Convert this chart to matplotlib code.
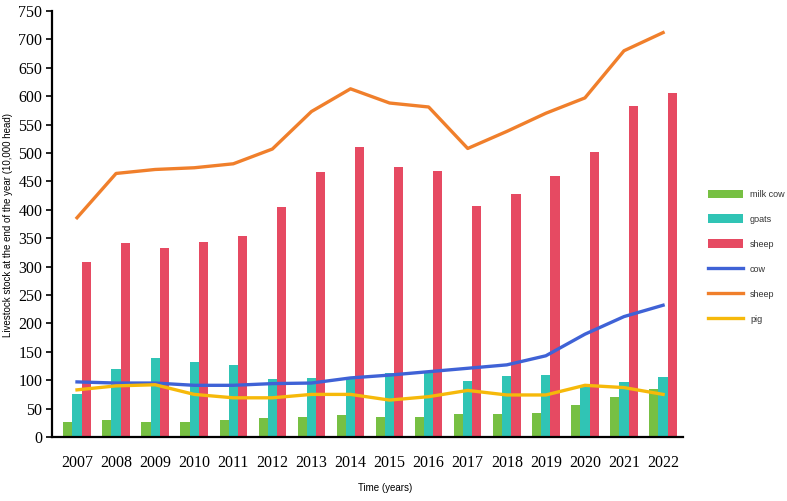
import matplotlib
matplotlib.use('Agg')
import matplotlib.pyplot as plt
import numpy as np

# Datos (10,000 cabezas)
years = ['2007', '2008', '2009', '2010', '2011', '2012', '2013', '2014',
         '2015', '2016', '2017', '2018', '2019', '2020', '2021', '2022']
milk_cow = [26, 30, 26, 26, 30, 33, 35, 38, 35, 36, 41, 40, 43, 56, 71, 84]
goats = [76, 120, 139, 132, 126, 102, 104, 105, 113, 112, 99, 107, 109, 89, 97, 106]
sheep_bar = [308, 341, 332, 343, 353, 405, 467, 510, 475, 469, 407, 428, 460, 502, 583, 606]
cow = [97, 95, 95, 91, 91, 94, 95, 104, 109, 115, 121, 127, 143, 181, 212, 232]
sheep_line = [386, 464, 471, 474, 481, 507, 573, 613, 588, 581, 508, 538, 570, 597, 680, 712]
pig = [83, 90, 92, 75, 69, 69, 75, 75, 65, 71, 82, 74, 74, 91, 87, 75]

fig = plt.figure(figsize=(7.87, 5.01), dpi=100)
ax = fig.add_axes([52/787, 1-437/501, (683-52)/787, (437-11)/501])

x = np.arange(len(years))
w = 0.235
b1 = ax.bar(x - w, milk_cow, w, color='#77c043', label='milk cow')
b2 = ax.bar(x, goats, w, color='#30c4b5', label='goats')
b3 = ax.bar(x + w, sheep_bar, w, color='#e64a62', label='sheep')
l1, = ax.plot(x, cow, color='#3f62d6', linewidth=2.4, label='cow')
l2, = ax.plot(x, sheep_line, color='#f07f2b', linewidth=2.4, label='sheep')
l3, = ax.plot(x, pig, color='#f6b90a', linewidth=2.4, label='pig')

ax.set_xlim(-0.64, 15.51)
ax.set_ylim(0, 750)
ax.set_yticks(np.arange(0, 751, 50))
ax.set_xticks(x)
ax.set_xticklabels(years)
for sp in ['top', 'right']:
    ax.spines[sp].set_visible(False)
for sp in ['left', 'bottom']:
    ax.spines[sp].set_linewidth(1.6)
ax.tick_params(axis='x', length=0, pad=13)
ax.tick_params(axis='y', length=4, width=1.2, pad=3)
for lab in ax.get_xticklabels() + ax.get_yticklabels():
    lab.set_family('Liberation Serif')
    lab.set_fontsize(11.5)

fig.text(8/787, 1-225/501, 'Livestock stock at the end of the year (10,000 head)',
         rotation=90, ha='center', va='center', fontsize=7, family='Liberation Sans')
fig.text(385/787, 1-488/501, 'Time (years)', ha='center', va='center',
         fontsize=7, family='Liberation Sans')

# Leyenda: primero las barras, luego las lineas
handles = [b1, b2, b3, l1, l2, l3]
labels = [h.get_label() for h in handles]
leg = fig.legend(handles, labels, loc='upper left', bbox_to_anchor=(703/787, 1-185/501),
                 frameon=False, handlelength=3.9, handleheight=1.1, labelspacing=1.72,
                 handletextpad=0.8, borderpad=0, prop={'family': 'Liberation Sans', 'size': 6.5})
for t in leg.get_texts():
    t.set_color('#333333')

plt.savefig('out.png', dpi=100)
